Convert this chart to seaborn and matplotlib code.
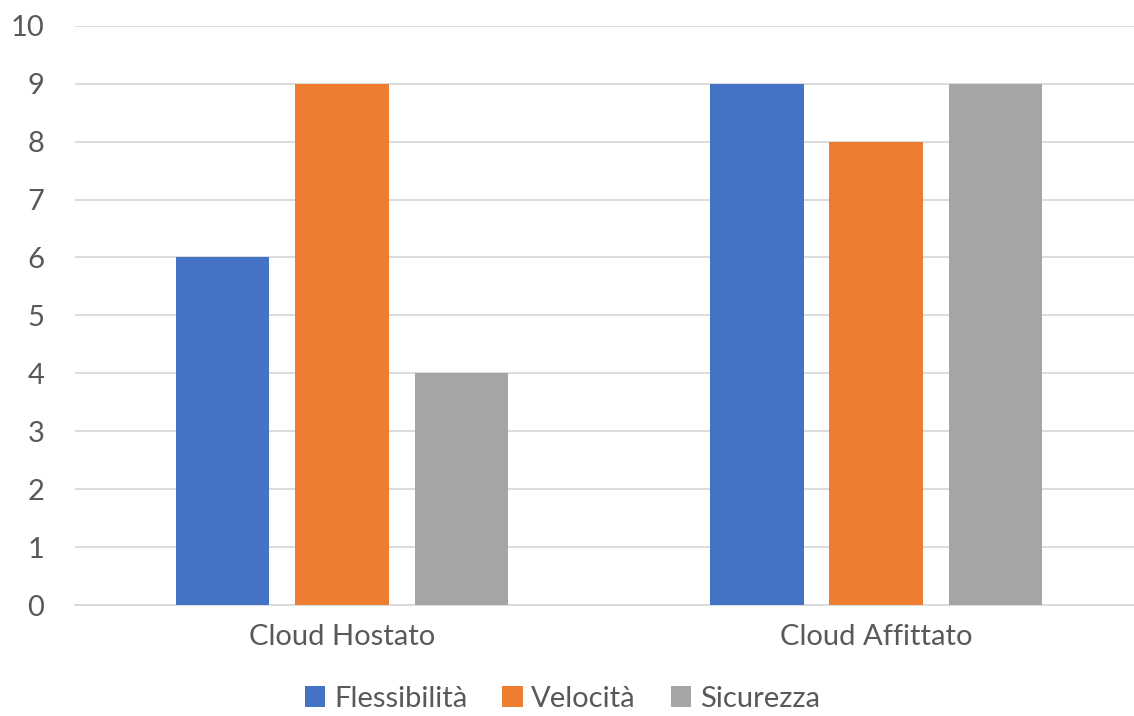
import pandas as pd
import matplotlib.pyplot as plt
import seaborn as sns

categories = ["Cloud Hostato", "Cloud Affittato"]
series = ["Flessibilità", "Velocità", "Sicurezza"]
flessibilita = [6, 9]
velocita = [9, 8]
sicurezza = [4, 9]
colors = ["#4472C4", "#ED7D31", "#A5A5A5"]

df = pd.DataFrame({
    "categoria": categories * 3,
    "serie": [series[0]] * 2 + [series[1]] * 2 + [series[2]] * 2,
    "valore": flessibilita + velocita + sicurezza,
})

sns.set_style("white")
plt.rcParams["font.family"] = ["Lato", "DejaVu Sans"]

fig = plt.figure(figsize=(11.34, 7.16), dpi=100)
ax = fig.add_axes([75 / 1134, 0.155, 1 - 75 / 1134, 0.809])

sns.barplot(data=df, x="categoria", y="valore", hue="serie",
            palette=colors, saturation=1, width=0.669, gap=0.218,
            linewidth=0, ax=ax, zorder=3)

ax.set_xlim(-0.5, 1.483)
ax.set_ylim(0, 10)
ax.set_yticks(range(0, 11))
ax.grid(axis="y", color="#D9D9D9", linewidth=1.3, zorder=0)
for s in ["top", "right", "left"]:
    ax.spines[s].set_visible(False)
ax.spines["bottom"].set_color("#D9D9D9")
ax.spines["bottom"].set_linewidth(1.3)
ax.tick_params(axis="both", length=0, labelsize=21, colors="#595959")
ax.tick_params(axis="y", pad=22)
ax.tick_params(axis="x", pad=14)
ax.set_xlabel("")
ax.set_ylabel("")

ax.legend(loc="center", bbox_to_anchor=(0.496, 0.024), bbox_transform=fig.transFigure,
          ncol=3, frameon=False, fontsize=21, handlelength=0.7, handleheight=0.7,
          handletextpad=0.3, columnspacing=1.2, labelcolor="#595959",
          borderpad=0.1)

fig.savefig("out.png", dpi=100)
